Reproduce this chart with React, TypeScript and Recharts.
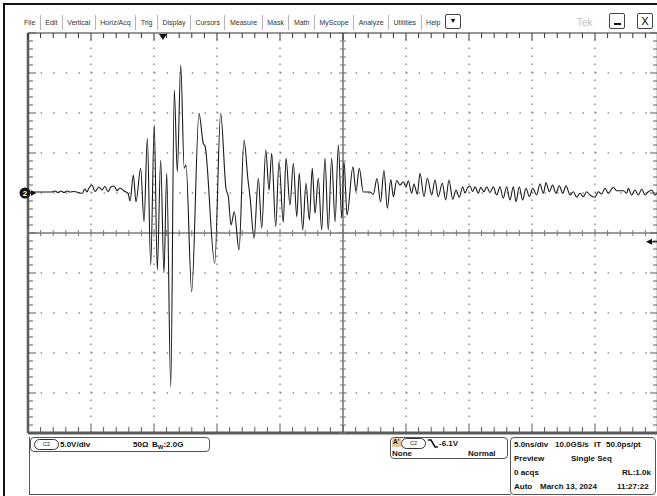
import React from 'react';
import { LineChart, Line, XAxis, YAxis, ReferenceLine, ReferenceDot } from 'recharts';

// C2 trace: [time ns from left graticule edge, volts from channel ground]
const preTrigger: Array<[number, number]> = [
  [0, 0.13], [0.95, 0.13], [1.9, 0.13], [2.14, 0.25], [2.38, 0.06], [2.62, 0.25], [2.86, 0.06],
  [3.1, 0.25], [3.33, 0.13], [3.65, 0.19], [3.97, 0.06], [4.29, -0.04], [4.52, 0.5], [4.68, 0.13],
  [4.84, 0.63], [5.08, 1.0], [5.32, 0.19], [5.63, 0.75], [5.87, 0.38], [6.11, 0.81], [6.35, 0.16],
  [6.59, 0.79], [6.83, 0.88], [7.06, 0.29], [7.3, 0.63], [7.62, 0.25], [7.94, -0.04],
];

const burst: Array<[number, number]> = [
  [8.1, -1.0], [8.36, 2.25], [8.57, -1.09], [8.94, 3.09], [9.21, -3.59], [9.47, 6.84], [9.74, -9.0],
  [10.02, 8.5], [10.26, -9.63], [10.53, 4.13], [10.79, -9.96], [11.01, 2.46], [11.33, -24.25],
  [11.61, 12.88], [11.85, 2.66], [12.12, 16.0], [12.4, 3.09], [12.54, 3.5], [12.99, -12.34],
  [13.57, 9.96], [13.91, 6.21], [14.05, 5.88], [14.82, -8.79], [15.29, 9.96], [15.71, 0.59],
  [15.9, -0.46], [16.11, -4.0], [16.37, -2.34], [16.75, -7.13], [17.14, 6.63], [17.46, 1.63],
  [17.62, -0.46], [17.94, -5.66],
];

const ringdown: Array<[number, number]> = [
  [18.28, 1.84], [18.55, -4.41], [18.87, 5.38], [19.13, 0.38], [19.34, 4.96], [19.66, -4.21],
  [19.92, 3.91], [20.26, -3.63], [20.48, 4.34], [20.79, -1.5], [21.06, 3.71], [21.33, -2.96],
  [21.53, 2.46], [21.8, -4.63], [22.06, 1.21], [22.33, -3.38], [22.56, 3.09], [22.78, -2.54],
  [23.04, 1.84], [23.31, -4.63], [23.57, 4.34], [23.83, -4.63], [24.1, 4.34], [24.37, -3.59],
  [24.63, 6.0], [24.9, -3.16], [25.08, 3.91], [25.32, -2.75], [25.79, 3.29], [26.03, 0.16],
  [26.29, 3.09], [26.61, 0.13],
];

const tail: Array<[number, number]> = [
  [27.14, 0.13], [27.4, -0.19], [27.7, 1.81], [27.98, -1.13], [28.25, 2.81], [28.52, -1.91],
  [28.79, 1.69], [29.0, -0.46], [29.26, 1.56], [29.52, 1.0], [29.79, 1.41], [30.0, 0.75],
  [30.18, 1.54], [30.45, -0.04], [30.63, 1.13], [30.9, -0.16], [31.11, 2.46], [31.43, -0.46],
  [31.69, 1.84], [32.04, -0.25], [32.3, 1.63], [32.56, -0.46], [32.88, 1.21], [33.15, -0.88],
  [33.41, 1.63], [33.71, -0.79], [33.97, 0.38], [34.23, -0.54], [34.5, 0.79], [34.68, 0],
  [34.87, 0.63], [35.08, 0.88], [35.29, 0.16], [35.48, 0.79], [35.74, -0.04], [35.93, 0.71],
  [36.19, 0.16], [36.4, 0.79], [36.67, 0.04], [36.93, 0.79], [37.2, -0.25], [37.46, 0.79],
  [37.72, -0.66], [37.99, 0.79], [38.25, -0.88], [38.52, 0.79], [38.73, -1.09], [38.99, 0.79],
  [39.26, -0.88], [39.52, 0.59], [39.79, -0.46], [40.06, 0.59], [40.37, -0.25], [40.63, 1.13],
  [40.9, -0.04], [41.11, 1.29], [41.37, 0.16], [41.64, 1.0], [41.9, -0.04], [42.17, 0.91],
  [42.44, -0.04], [42.7, 0.91], [43.02, -0.25], [43.28, 0.16], [43.55, -0.54], [43.81, -0.04],
  [44.07, -0.46], [44.34, 0.16], [44.6, -0.25], [45.0, -0.54], [45.26, 0.16], [45.53, -0.13],
  [45.79, 0.59], [46.06, -0.04], [46.45, 0.71], [46.72, 0.29], [47.25, 0.29], [47.52, -0.04],
  [47.64, 0.59], [47.91, -0.25], [48.17, 0.38], [48.44, -0.25], [48.71, 0.46], [48.97, -0.25],
  [49.23, 0.16], [49.5, 0.38], [49.76, -0.25], [49.92, 0],
];

// graticule: 10 x 5 ns, 10 x 5 V, ground marker 1 div above centre
const timeDomain: [number, number] = [0, 50];
const voltDomain: [number, number] = [-30, 20];
const divTimes = [5, 10, 15, 20, 30, 35, 40, 45];
const divVolts = [15, 10, 5, 0, -10, -15, -20, -25];
const centreTime = 25;
const centreVolt = -5;
const minorTimes = Array.from({ length: 51 }, (_, i) => i);
const minorVolts = Array.from({ length: 51 }, (_, i) => -30 + i);
const triggerTime = 10.71;
const triggerLevel = -6.1;

const menuItems = ['File', 'Edit', 'Vertical', 'Horiz/Acq', 'Trig', 'Display', 'Cursors', 'Measure', 'Mask', 'Math', 'MyScope', 'Analyze', 'Utilities', 'Help'];

const FONT = '"Liberation Sans", Arial, Helvetica, sans-serif';
const GRID = '#8a8a8a';
const EDGE = '#5a5a5a';

const traceData = [...preTrigger, ...burst, ...ringdown, ...tail].map(([t, v]) => ({ t, v }));

const isMajorT = (t: number) => t % 5 === 0;
const isMajorV = (v: number) => v % 5 === 0;

// tick glyphs drawn at reference dots
const vTick = (up: number, down: number, color = EDGE, w = 1) => (p: any) => (
  <line x1={p.cx} x2={p.cx} y1={p.cy - up} y2={p.cy + down} stroke={color} strokeWidth={w} />
);
const hTick = (left: number, right: number, color = EDGE, w = 1) => (p: any) => (
  <line x1={p.cx - left} x2={p.cx + right} y1={p.cy} y2={p.cy} stroke={color} strokeWidth={w} />
);

const triggerMark = (p: any) => (
  <polygon points={`${p.cx - 4},${p.cy + 1} ${p.cx + 4},${p.cy + 1} ${p.cx},${p.cy + 7}`} fill="#111" />
);
const levelArrow = (p: any) => (
  <g>
    <line x1={p.cx - 10} x2={p.cx} y1={p.cy} y2={p.cy} stroke="#111" strokeWidth={1.2} />
    <polygon points={`${p.cx - 12},${p.cy} ${p.cx - 6},${p.cy - 3} ${p.cx - 6},${p.cy + 3}`} fill="#111" />
  </g>
);
const groundMarker = (p: any) => (
  <g>
    <circle cx={p.cx - 3} cy={p.cy} r={5.5} fill="#111" />
    <text x={p.cx - 3} y={p.cy + 3} textAnchor="middle" fontSize={8} fontWeight={700} fill="#fff" fontFamily={FONT}>2</text>
    <polygon points={`${p.cx + 3},${p.cy - 3} ${p.cx + 8},${p.cy} ${p.cx + 3},${p.cy + 3}`} fill="#111" />
  </g>
);

const Txt: React.FC<{ x: number; y: number; size?: number; bold?: boolean; color?: string; children: React.ReactNode }> = ({ x, y, size = 8, bold = true, color = '#111', children }) => (
  <div style={{ position: 'absolute', left: x, top: y, fontSize: size, fontWeight: bold ? 700 : 400, color, fontFamily: FONT, lineHeight: 1, whiteSpace: 'nowrap' }}>
    {children}
  </div>
);

const Box: React.FC<{ x: number; y: number; w: number; h: number; r?: number; children?: React.ReactNode }> = ({ x, y, w, h, r = 4, children }) => (
  <div style={{ position: 'absolute', left: x, top: y, width: w, height: h, border: '1px solid #555', borderRadius: r, boxSizing: 'border-box' }}>
    {children}
  </div>
);

const Pill: React.FC<{ x: number; y: number }> = ({ x, y }) => (
  <div style={{ position: 'absolute', left: x, top: y, width: 25, height: 11, border: '1px solid #333', borderRadius: 6, boxSizing: 'border-box', fontSize: 5.5, fontFamily: FONT, textAlign: 'center', lineHeight: '9px', color: '#222' }}>
    C2
  </div>
);

export default function App() {
  return (
    <div style={{ position: 'absolute', left: 0, top: 0, width: 657, height: 496, overflow: 'hidden', background: '#fff' }}>
      {/* window frame */}
      <div style={{ position: 'absolute', left: 3, top: 3, width: 654, height: 1.5, background: '#111' }} />
      <div style={{ position: 'absolute', left: 3, top: 3, width: 1.5, height: 493, background: '#111' }} />

      {/* menu bar */}
      <div style={{ position: 'absolute', left: 19.5, top: 15, height: 15, display: 'flex', alignItems: 'center', fontFamily: FONT, fontSize: 7, color: '#333' }}>
        {menuItems.map((m, i) => (
          <div key={m} style={{ padding: '0 4.5px', height: 15, lineHeight: '15px', borderRight: i < menuItems.length - 1 ? '1px solid #b5b5b5' : 'none' }}>{m}</div>
        ))}
      </div>
      <div style={{ position: 'absolute', left: 445, top: 14, width: 16, height: 15, border: '1px solid #444', borderRadius: 2, boxSizing: 'border-box', fontSize: 7, textAlign: 'center', lineHeight: '13px' }}>▼</div>
      <Txt x={577} y={18} size={10} bold={false} color="#c4c4c4">Tek</Txt>
      <div style={{ position: 'absolute', left: 609, top: 13, width: 16, height: 16, border: '1px solid #444', borderRadius: 2, boxSizing: 'border-box' }}>
        <div style={{ position: 'absolute', left: 4, top: 9, width: 7, height: 1.5, background: '#111' }} />
      </div>
      <div style={{ position: 'absolute', left: 637, top: 13, width: 16, height: 16, border: '1px solid #444', borderRadius: 2, boxSizing: 'border-box', fontSize: 11, fontFamily: FONT, textAlign: 'center', lineHeight: '14px' }}>X</div>

      <div style={{ position: 'absolute', left: 0, top: 0 }}>
        <LineChart width={660} height={436} data={traceData} margin={{ top: 33, right: 2, bottom: 3, left: 28 }}>
          <XAxis type="number" dataKey="t" domain={timeDomain} hide allowDataOverflow />
          <YAxis type="number" domain={voltDomain} hide allowDataOverflow />

          {divVolts.map((v) => (
            <ReferenceLine key={`hv${v}`} y={v} stroke={GRID} strokeWidth={1.5} strokeDasharray="1.5 11.1" ifOverflow="visible" />
          ))}
          {divTimes.map((t) => (
            <ReferenceLine key={`vt${t}`} x={t} stroke={GRID} strokeWidth={1.5} strokeDasharray="1.5 6.5" ifOverflow="visible" />
          ))}
          <ReferenceLine y={centreVolt} stroke="#7a7a7a" strokeWidth={1.6} ifOverflow="visible" />
          <ReferenceLine x={centreTime} stroke="#7a7a7a" strokeWidth={1.6} ifOverflow="visible" />
          <ReferenceLine y={voltDomain[1]} stroke="#333" strokeWidth={1.2} ifOverflow="visible" />
          <ReferenceLine y={voltDomain[0]} stroke={EDGE} strokeWidth={3} ifOverflow="visible" />
          <ReferenceLine x={timeDomain[0]} stroke={EDGE} strokeWidth={2.5} ifOverflow="visible" />
          <ReferenceLine x={timeDomain[1]} stroke={EDGE} strokeWidth={2.5} ifOverflow="visible" />

          {minorTimes.map((t) => (
            <ReferenceDot key={`ct${t}`} x={t} y={centreVolt} r={0} ifOverflow="visible" shape={vTick(isMajorT(t) ? 4 : 3, isMajorT(t) ? 4 : 3, '#7a7a7a')} />
          ))}
          {minorVolts.map((v) => (
            <ReferenceDot key={`cv${v}`} x={centreTime} y={v} r={0} ifOverflow="visible" shape={hTick(isMajorV(v) ? 4 : 3, isMajorV(v) ? 4 : 3, '#7a7a7a')} />
          ))}
          {minorTimes.map((t) => (
            <ReferenceDot key={`tt${t}`} x={t} y={voltDomain[1]} r={0} ifOverflow="visible" shape={vTick(0, isMajorT(t) ? 7 : 5, '#333')} />
          ))}
          {minorTimes.map((t) => (
            <ReferenceDot key={`bt${t}`} x={t} y={voltDomain[0]} r={0} ifOverflow="visible" shape={vTick(isMajorT(t) ? 8 : 6, 0)} />
          ))}
          {minorVolts.map((v) => (
            <ReferenceDot key={`lv${v}`} x={timeDomain[0]} y={v} r={0} ifOverflow="visible" shape={hTick(0, isMajorV(v) ? 8 : 5)} />
          ))}
          {minorVolts.map((v) => (
            <ReferenceDot key={`rv${v}`} x={timeDomain[1]} y={v} r={0} ifOverflow="visible" shape={hTick(isMajorV(v) ? 8 : 5, 0)} />
          ))}

          <Line type="monotone" dataKey="v" stroke="#1a1a1a" strokeWidth={1.1} dot={false} isAnimationActive={false} />

          <ReferenceDot x={triggerTime} y={voltDomain[1]} r={0} ifOverflow="visible" shape={triggerMark} />
          <ReferenceDot x={timeDomain[1]} y={triggerLevel} r={0} ifOverflow="visible" shape={levelArrow} />
          <ReferenceDot x={timeDomain[0]} y={0} r={0} ifOverflow="visible" shape={groundMarker} />
        </LineChart>
      </div>

      {/* status panel */}
      <div style={{ position: 'absolute', left: 29, top: 437, width: 1, height: 58, background: '#555' }} />
      <div style={{ position: 'absolute', left: 29, top: 494, width: 482, height: 1, background: '#555' }} />

      <Box x={30} y={437} w={180} h={15} />
      <Pill x={34} y={439} />
      <Txt x={60} y={441}>5.0V/div</Txt>
      <Txt x={133} y={441}>50Ω</Txt>
      <Txt x={152} y={441}>
        B<sub style={{ fontSize: 6, verticalAlign: -2 }}>W</sub>:2.0G
      </Txt>

      <Box x={390} y={437} w={118} h={22} />
      <div style={{ position: 'absolute', left: 392, top: 438, width: 9, height: 9, background: '#e8c99c' }} />
      <Txt x={393} y={439} size={6.5}>A'</Txt>
      <Pill x={401} y={438} />
      <svg style={{ position: 'absolute', left: 427, top: 438 }} width={12} height={11}>
        <path d="M1 2 L4 2 L8 9 L11 9" stroke="#111" strokeWidth={1.6} fill="none" />
      </svg>
      <Txt x={439} y={440}>-6.1V</Txt>
      <Txt x={392} y={450}>None</Txt>
      <Txt x={468} y={450}>Normal</Txt>

      <Box x={510} y={437} w={146} h={58} />
      <Txt x={514} y={441}>5.0ns/div</Txt>
      <Txt x={555} y={441}>10.0GS/s</Txt>
      <Txt x={594} y={441}>IT</Txt>
      <Txt x={606} y={441}>50.0ps/pt</Txt>
      <Txt x={514} y={455}>Preview</Txt>
      <Txt x={571} y={455}>Single Seq</Txt>
      <Txt x={514} y={469}>0 acqs</Txt>
      <Txt x={622} y={469}>RL:1.0k</Txt>
      <Txt x={514} y={483}>Auto</Txt>
      <Txt x={540} y={483}>March 13, 2024</Txt>
      <Txt x={617} y={483}>11:27:22</Txt>
    </div>
  );
}
